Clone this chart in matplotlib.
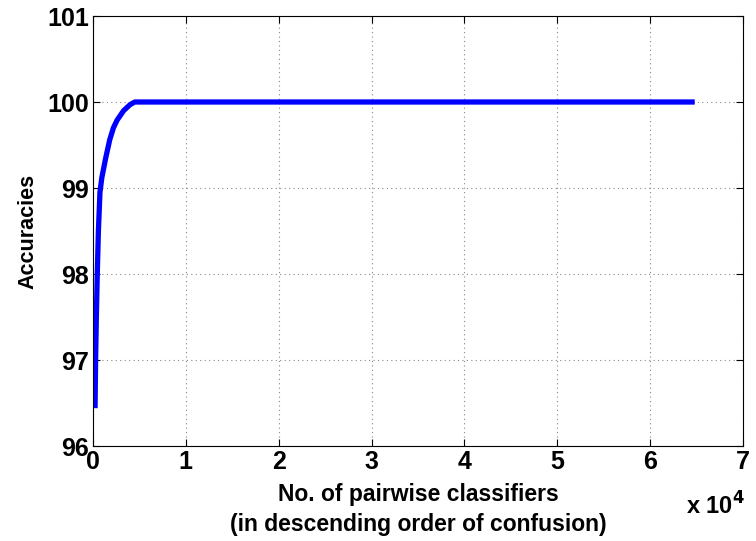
import matplotlib
matplotlib.use('Agg')
import matplotlib.pyplot as plt

plt.rcParams['font.family'] = ['Liberation Sans', 'DejaVu Sans']
plt.rcParams['font.weight'] = 'bold'

# number of pairwise classifiers (x 10^4) and accuracy
n_classifiers = [0.022, 0.028, 0.036, 0.046, 0.058, 0.075, 0.095, 0.137, 0.18, 0.22, 0.26, 0.33, 0.40, 0.45, 6.48]
accuracies = [96.44, 97.0, 97.5, 98.0, 98.5, 98.95, 99.12, 99.35, 99.56, 99.7, 99.79, 99.9, 99.97, 100.0, 100.0]

fig = plt.figure(figsize=(7.56, 5.41), dpi=100)
ax = fig.add_axes([93/756, 1 - 446/541, 650/756, 430/541])
ax.plot(n_classifiers, accuracies, color='#0000ff', linewidth=3.8, solid_capstyle='butt')
ax.set_xlim(0, 7)
ax.set_ylim(96, 101)
ax.set_xticks(range(8))
ax.set_yticks(range(96, 102))
ax.tick_params(direction='in', top=True, right=True, labelsize=18, length=5, pad=3)
for lab in ax.get_xticklabels() + ax.get_yticklabels():
    lab.set_fontweight('bold')
ax.grid(True, linestyle=(0, (1, 3)), color='#888888', linewidth=0.8)
ax.set_xlabel('No. of pairwise classifiers\n(in descending order of confusion)', fontsize=16.5, fontweight='bold',
              labelpad=6, linespacing=1.4)
ax.set_ylabel('Accuracies', fontsize=15.5, fontweight='bold', labelpad=6)
fig.text(715/756, 1 - 506/541, r'x 10$^{\mathbf{4}}$', fontsize=17, fontweight='bold', ha='center', va='center')
fig.savefig('out.png', dpi=100)
